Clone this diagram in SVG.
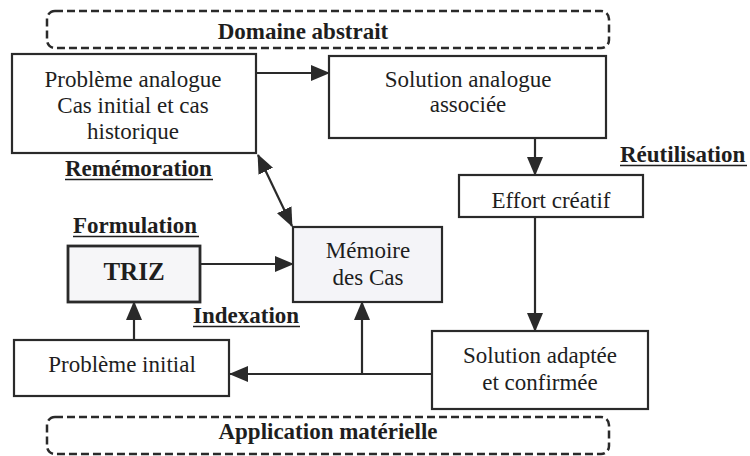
<svg xmlns="http://www.w3.org/2000/svg" width="750" height="456" viewBox="0 0 750 456">
<style>
.box{fill:#ffffff;stroke:#2a2a2a;stroke-width:2.2}
.shade{fill:#f4f4f8;stroke:#2a2a2a;stroke-width:2.2}
.thick{fill:#f6f6f8;stroke:#2a2a2a;stroke-width:2.8}
.dash{fill:none;stroke:#2a2a2a;stroke-width:2.5;stroke-dasharray:8 4}
.t{font-family:"Liberation Serif","Times New Roman",serif;font-size:23px;fill:#1e1e1e;text-anchor:middle}
.b{font-family:"Liberation Serif","Times New Roman",serif;font-size:23px;font-weight:bold;fill:#1e1e1e}
.ul{stroke:#1e1e1e;stroke-width:1.6}
.c{fill:none;stroke:#2a2a2a;stroke-width:2.2}
</style>
<defs>
<marker id="ah" viewBox="0 0 19 16" refX="18" refY="8" markerWidth="19" markerHeight="16" markerUnits="userSpaceOnUse" orient="auto-start-reverse">
<path d="M0,0 L19,8 L0,16 z" fill="#2a2a2a"/>
</marker>
</defs>
<rect width="750" height="456" fill="#ffffff"/>

<g id="domaine-abstrait">
<rect class="dash" x="47" y="11" width="562" height="37" rx="8"/>
<text class="b" x="303" y="39" text-anchor="middle">Domaine abstrait</text>
</g>

<g id="application-materielle">
<rect class="dash" x="47" y="417" width="562" height="37" rx="8"/>
<text class="b" x="328" y="439" text-anchor="middle">Application matérielle</text>
</g>

<g id="probleme-analogue">
<rect class="box" x="12" y="54" width="244" height="99"/>
<text class="t" x="133" y="87">Problème analogue</text>
<text class="t" x="133" y="113">Cas initial et cas</text>
<text class="t" x="133" y="139">historique</text>
</g>

<g id="solution-analogue">
<rect class="box" x="329" y="56" width="277" height="82"/>
<text class="t" x="468" y="87">Solution analogue</text>
<text class="t" x="468" y="112">associée</text>
</g>

<g id="effort-creatif">
<rect class="box" x="459" y="175" width="184" height="42"/>
<text class="t" x="551" y="208">Effort créatif</text>
</g>

<g id="memoire">
<rect class="shade" x="293" y="227" width="149" height="75"/>
<text class="t" x="368" y="258">Mémoire</text>
<text class="t" x="368" y="285">des Cas</text>
</g>

<g id="triz">
<rect class="thick" x="68" y="246" width="132" height="56"/>
<text class="b" x="134" y="280" text-anchor="middle" style="font-size:25px">TRIZ</text>
</g>

<g id="probleme-initial">
<rect class="box" x="14" y="340" width="215" height="56"/>
<text class="t" x="122" y="372">Problème initial</text>
</g>

<g id="solution-adaptee">
<rect class="box" x="432" y="331" width="216" height="78"/>
<text class="t" x="540" y="363">Solution adaptée</text>
<text class="t" x="540" y="390">et confirmée</text>
</g>

<g id="labels">
<text class="b" x="65" y="176">Remémoration</text>
<line class="ul" x1="65" y1="179.5" x2="213" y2="179.5"/>
<text class="b" x="73" y="233">Formulation</text>
<line class="ul" x1="73" y1="236.5" x2="199" y2="236.5"/>
<text class="b" x="193" y="323">Indexation</text>
<line class="ul" x1="193" y1="326.5" x2="300" y2="326.5"/>
<text class="b" x="620" y="162">Réutilisation</text>
<line class="ul" x1="620" y1="165.5" x2="747" y2="165.5"/>
</g>

<g id="connectors">
<line class="c" x1="256" y1="73" x2="329" y2="73" marker-end="url(#ah)"/>
<line class="c" x1="535" y1="138" x2="535" y2="175" marker-end="url(#ah)"/>
<line class="c" x1="535" y1="217" x2="535" y2="331" marker-end="url(#ah)"/>
<line class="c" x1="432" y1="374" x2="230" y2="374" marker-end="url(#ah)"/>
<line class="c" x1="362" y1="374" x2="362" y2="302" marker-end="url(#ah)"/>
<line class="c" x1="134" y1="340" x2="134" y2="302" marker-end="url(#ah)"/>
<line class="c" x1="200" y1="264" x2="293" y2="264" marker-end="url(#ah)"/>
<line class="c" x1="258" y1="155" x2="292" y2="226" marker-start="url(#ah)" marker-end="url(#ah)"/>
</g>
</svg>
